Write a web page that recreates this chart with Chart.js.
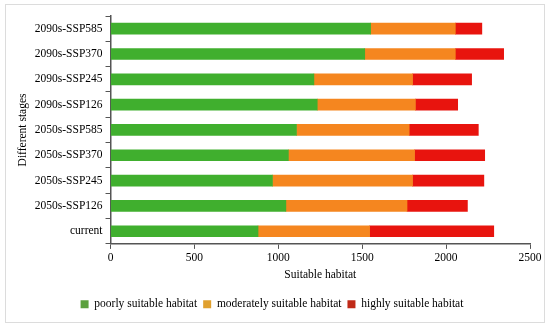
<!DOCTYPE html>
<html>
<head>
<meta charset="utf-8">
<script src="https://cdn.jsdelivr.net/npm/chart.js@4/dist/chart.umd.min.js"></script>
<style>
    body { margin: 0; background: #fff; }
    #box { position: absolute; left: 5px; top: 4px; width: 538px; height: 317px; border: 1px solid #dcdcdc; }
</style>
</head>
<body>
<div id="box"><canvas id="chart"></canvas></div>
<script>
// 各阶段
const stages = ['2090s-SSP585', '2090s-SSP370', '2090s-SSP245', '2090s-SSP126',
    '2050s-SSP585', '2050s-SSP370', '2050s-SSP245', '2050s-SSP126', 'current'];
const poorly = [1550, 1515, 1212, 1232, 1108, 1060, 965, 1045, 879];
const moderately = [505, 540, 588, 585, 672, 752, 835, 722, 665];
const highly = [158, 288, 352, 252, 412, 418, 425, 360, 740];
const xTicks = [0, 500, 1000, 1500, 2000, 2500];

const serif = 'Liberation Serif, Times New Roman, serif';
const axisColor = '#555';
const txt = { family: serif, size: 11.5 };

new Chart(document.getElementById('chart'), {
    type: 'bar',
    data: {
        labels: stages,
        datasets: [
            { label: 'poorly suitable habitat', data: poorly, backgroundColor: '#40AF2E' },
            { label: 'moderately suitable habitat', data: moderately, backgroundColor: '#F5861F' },
            { label: 'highly suitable habitat', data: highly, backgroundColor: '#E8140E' }
        ]
    },
    options: {
        indexAxis: 'y',
        responsive: true,
        maintainAspectRatio: false,
        animation: false,
        layout: { padding: { left: 8, right: 14, top: 11, bottom: 2 } },
        datasets: { bar: { barThickness: 11 } },
        plugins: {
            legend: {
                position: 'bottom',
                labels: {
                    boxWidth: 8, boxHeight: 8, padding: 6,
                    color: '#000',
                    font: txt,
                    generateLabels: chart => Chart.defaults.plugins.legend.labels.generateLabels(chart).map((l, i) => {
                        l.fillStyle = ['#5BA03E', '#E0A02E', '#C02A18'][i];
                        l.strokeStyle = l.fillStyle;
                        return l;
                    })
                }
            },
            tooltip: { enabled: false }
        },
        scales: {
            x: {
                stacked: true,
                min: 0,
                max: 2500,
                afterBuildTicks: axis => { axis.ticks = xTicks.map(v => ({ value: v })); },
                border: { display: true, color: axisColor, width: 1.5 },
                grid: { drawOnChartArea: false, color: axisColor, tickLength: 5 },
                ticks: { color: '#000', font: txt, padding: 2, callback: v => String(v) },
                title: { display: true, text: 'Suitable habitat', color: '#000', font: txt, padding: { top: 1, bottom: 11 } }
            },
            y: {
                stacked: true,
                border: { display: true, color: axisColor, width: 1.5 },
                grid: { drawOnChartArea: false, offset: true, color: axisColor, tickLength: 5 },
                ticks: { color: '#000', font: txt, padding: 3 },
                title: { display: true, text: 'Different stages', color: '#000', font: txt, padding: 2 }
            }
        }
    }
});
</script>
</body>
</html>
